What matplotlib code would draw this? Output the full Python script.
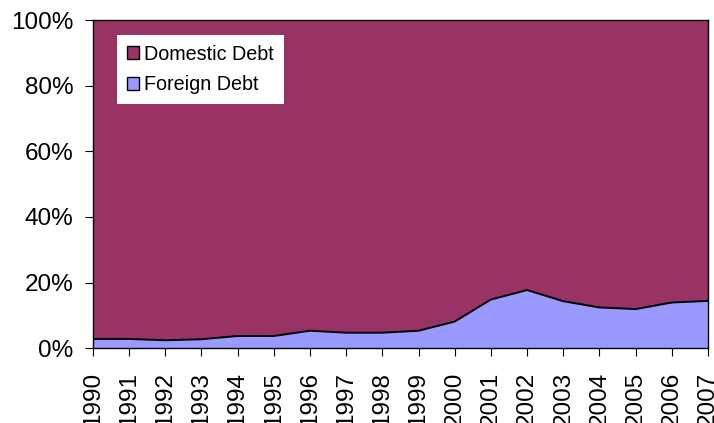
import matplotlib
matplotlib.use('Agg')
import matplotlib.pyplot as plt
from matplotlib.patches import Patch
from matplotlib.ticker import FuncFormatter

# Data (share of total debt, %)
years = list(range(1990, 2008))
foreign = [2.8, 2.8, 2.4, 2.7, 3.7, 3.7, 5.3, 4.7, 4.7, 5.3,
           8.1, 14.8, 17.7, 14.3, 12.4, 11.9, 13.9, 14.4]
domestic = [100 - f for f in foreign]

plt.rcParams['font.family'] = ['Liberation Sans', 'DejaVu Sans']

fig = plt.figure(figsize=(7.14, 4.23), dpi=100)
ax = fig.add_axes([0.130, 0.177, 0.8616, 0.7757])

ax.stackplot(years, foreign, domestic, colors=['#9999FF', '#993366'], linewidth=0)
ax.plot(years, foreign, color='black', linewidth=1.4)

ax.set_xlim(1990, 2007)
ax.set_ylim(0, 100)
ax.set_xticks(years)
ax.set_xticklabels([str(y) for y in years], rotation=90, fontsize=17.5)
ax.set_yticks(range(0, 101, 20))
ax.yaxis.set_major_formatter(FuncFormatter(lambda v, p: f'{int(v)}%'))
ax.tick_params(axis='y', labelsize=17.5, length=6, direction='out', pad=8)
ax.tick_params(axis='x', length=6, direction='out', pad=11)

for s in ax.spines.values():
    s.set_color('black')
    s.set_linewidth(1.0)

handles = [Patch(facecolor='#993366', edgecolor='black', label='Domestic Debt'),
           Patch(facecolor='#9999FF', edgecolor='black', label='Foreign Debt')]
leg = ax.legend(handles=handles, loc='upper left', bbox_to_anchor=(0.039, 0.955),
                fontsize=14.2, frameon=True, fancybox=False, framealpha=1,
                handlelength=0.6, handleheight=0.6, handletextpad=0.3,
                borderpad=0.5, labelspacing=0.6, borderaxespad=0)
leg.get_frame().set_edgecolor('white')
leg.get_frame().set_linewidth(0)

fig.savefig('out.png', dpi=100, facecolor='white')
